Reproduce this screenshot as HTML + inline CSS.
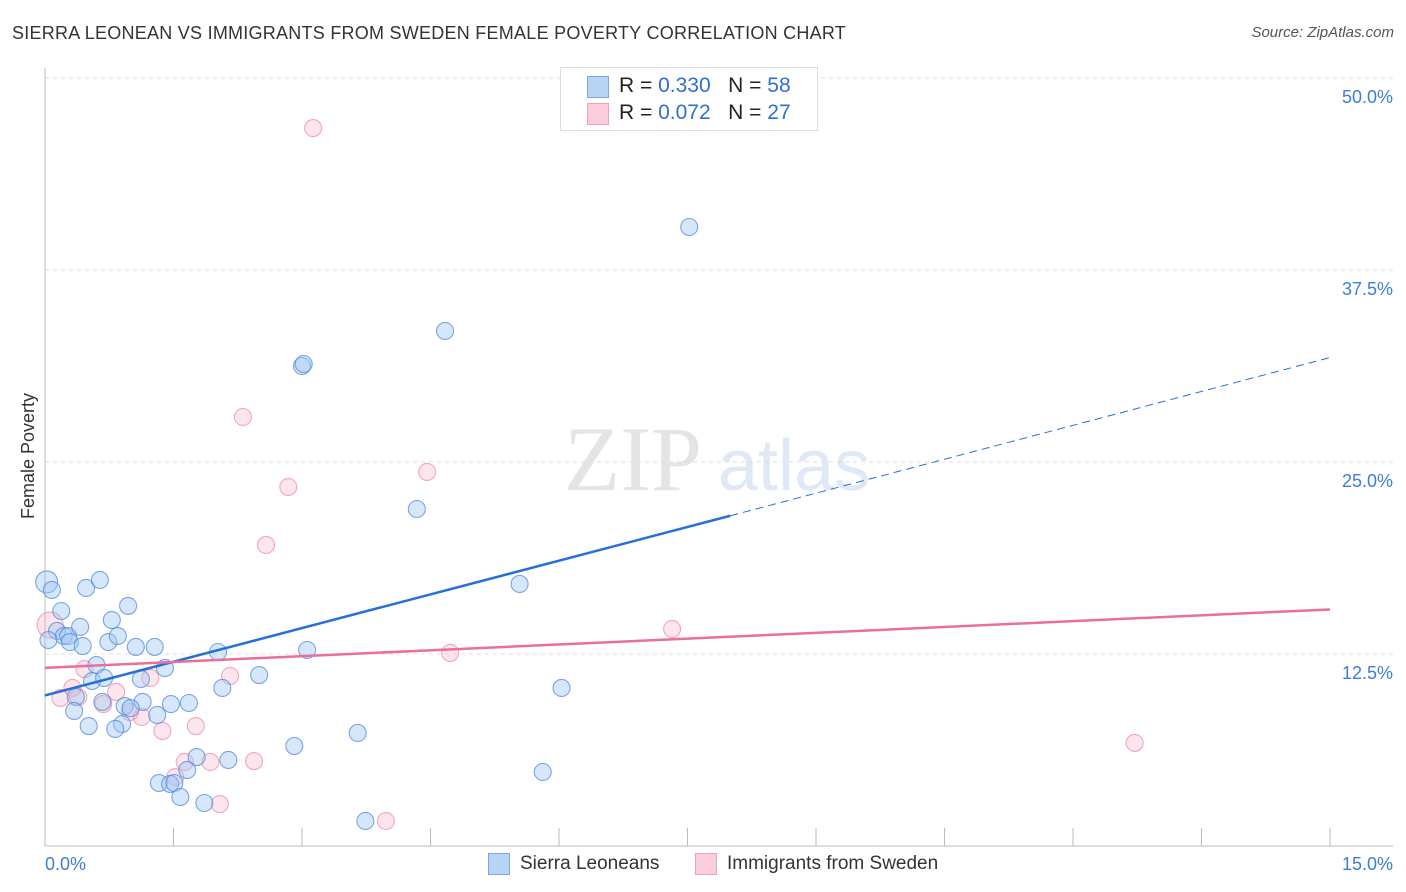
<!DOCTYPE html>
<html><head><meta charset="utf-8">
<style>
body{margin:0;background:#fff;font-family:"Liberation Sans",sans-serif;}
#wrap{position:relative;width:1406px;height:892px;overflow:hidden;}
.t{position:absolute;white-space:nowrap;}
</style></head>
<body>
<div id="wrap">
<div class="t" style="left:12px;top:23px;font-size:18px;color:#333;letter-spacing:0.25px;">SIERRA LEONEAN VS IMMIGRANTS FROM SWEDEN FEMALE POVERTY CORRELATION CHART</div>
<div class="t" style="right:12px;top:24px;font-size:15px;color:#555;font-style:italic;">Source: ZipAtlas.com</div>
<svg id="plot" width="1406" height="892" style="position:absolute;left:0;top:0"></svg>
</div>
<script>
const xTicks=[0,1.5,3,4.5,6,7.5,9,10.5,12,13.5,15];
const yTicks=[12.5,25,37.5,50];
const yTickLabels=["12.5%","25.0%","37.5%","50.0%"];
const blueX=[0.02,0.08,0.19,0.14,0.22,0.27,0.29,0.41,0.44,0.48,0.64,0.60,0.55,0.69,0.36,0.34,0.51,0.78,0.74,0.85,0.97,1.06,1.28,1.12,1.40,1.14,0.93,1.00,0.67,0.90,0.82,1.31,1.47,1.68,2.02,2.07,2.50,1.77,2.14,1.66,1.33,1.46,1.51,1.58,1.86,3.06,2.91,3.65,3.74,4.34,4.67,3.00,3.02,5.54,6.03,5.81,7.52,0.04];
const blueY=[17.19,16.67,15.30,14.00,13.67,13.67,13.28,14.26,13.02,16.80,17.32,11.78,10.74,10.94,9.70,8.79,7.81,14.71,13.28,13.67,15.63,12.96,12.96,10.87,11.59,9.38,9.11,8.98,9.38,7.94,7.62,8.53,9.24,9.31,12.63,10.29,11.13,5.79,5.60,4.95,4.10,4.04,4.10,3.19,2.80,12.76,6.51,7.36,1.63,21.94,33.53,31.25,31.38,17.06,10.29,4.82,40.30,13.41];
const pinkX=[0.06,0.46,0.32,0.18,0.39,0.83,0.68,0.99,1.13,1.23,1.37,1.76,1.63,1.93,1.52,2.04,2.44,2.16,2.58,2.84,2.31,3.13,4.46,4.73,7.32,3.98,12.72];
const pinkY=[14.39,11.52,10.29,9.64,9.70,10.03,9.24,8.72,8.40,10.94,7.49,7.81,5.47,5.47,4.49,2.73,5.53,11.07,19.60,23.37,27.93,46.74,24.35,12.57,14.13,1.63,6.71];
const blueTrend=[[0,9.8],[8.0,21.5],[15,31.8]];
const pinkTrend=[[0,11.6],[15,15.4]];
const X0=45,X1=1330,Y0=846,YPX=192/12.5;
const sx=v=>X0+(X1-X0)*v/15;
const sy=v=>Y0-v*YPX;
const svg=document.getElementById('plot');
const NS='http://www.w3.org/2000/svg';
function mk(tag,attrs,parent){const e=document.createElementNS(NS,tag);for(const k in attrs)e.setAttribute(k,attrs[k]);(parent||svg).appendChild(e);return e;}
let w1=mk('text',{x:633,y:490,'font-size':92,'font-family':'Liberation Serif,serif',fill:'#e4e4e4','text-anchor':'middle'});w1.textContent='ZIP';


let w2=mk('text',{x:718,y:490,'font-size':72,'font-family':'Liberation Sans,sans-serif',fill:'#dfe8f5'});w2.textContent='atlas';


yTicks.forEach((v,i)=>{
 const g=mk('line',{x1:X0,x2:1393,y1:sy(v),y2:sy(v),stroke:'#ddd','stroke-dasharray':'4,4'});
 
 
 const t=mk('text',{x:1393,y:sy(v)+25,'font-size':18,fill:'#3b7dd8','text-anchor':'end'});t.textContent=yTickLabels[i];
 
 
});
let ax=mk('line',{x1:X0,x2:1393,y1:Y0,y2:Y0,stroke:'#bbb'});


let ay=mk('line',{x1:X0,x2:X0,y1:68,y2:Y0,stroke:'#bbb'});


xTicks.forEach(v=>{const t=mk('line',{x1:sx(v),x2:sx(v),y1:828,y2:Y0,stroke:'#bbb'});
 
 });
let xl0=mk('text',{x:45,y:870,'font-size':18,fill:'#3b7dd8'});xl0.textContent='0.0%';


let xl1=mk('text',{x:1393,y:870,'font-size':18,fill:'#3b7dd8','text-anchor':'end'});xl1.textContent='15.0%';


let yt=mk('text',{x:34,y:456,'font-size':18,fill:'#333','text-anchor':'middle',transform:'rotate(-90 34 456)'});yt.textContent='Female Poverty';


pinkX.forEach((x,i)=>{const c=mk('circle',{cx:sx(x),cy:sy(pinkY[i]),r:i===0?13:8.5,fill:'rgba(246,170,195,0.3)',stroke:'rgba(236,140,172,0.75)','stroke-width':1.1});
 
 });
blueX.forEach((x,i)=>{const c=mk('circle',{cx:sx(x),cy:sy(blueY[i]),r:i===0?11:8.5,fill:'rgba(160,198,242,0.42)',stroke:'rgba(80,138,220,0.75)','stroke-width':1.1});
 
 });
let bt=mk('line',{x1:sx(blueTrend[0][0]),y1:sy(blueTrend[0][1]),x2:sx(blueTrend[1][0]),y2:sy(blueTrend[1][1]),stroke:'#2470d8','stroke-width':2.5});


let bd=mk('line',{x1:sx(blueTrend[1][0]),y1:sy(blueTrend[1][1]),x2:sx(blueTrend[2][0]),y2:sy(blueTrend[2][1]),stroke:'#2470d8','stroke-width':1,'stroke-dasharray':'8,5'});


let pt=mk('line',{x1:sx(pinkTrend[0][0]),y1:sy(pinkTrend[0][1]),x2:sx(pinkTrend[1][0]),y2:sy(pinkTrend[1][1]),stroke:'#e8709a','stroke-width':2.5});


</script>
<div style="position:absolute;left:560px;top:67px;width:256px;height:62px;border:1px solid #ddd;background:#fff;font-size:21px;">
 <div style="position:absolute;left:26px;top:8px;width:20px;height:20px;background:#b9d3f5;border:1px solid #7aa6e4;"></div>
 <div class="t" style="left:58px;top:6px;color:#222">R = <span style="color:#2f6fd0">0.330</span>&nbsp;&nbsp;&nbsp;N = <span style="color:#2f6fd0">58</span></div>
 <div style="position:absolute;left:26px;top:35px;width:20px;height:20px;background:#fbccd9;border:1px solid #f0a0ba;"></div>
 <div class="t" style="left:58px;top:33px;color:#222">R = <span style="color:#2f6fd0">0.072</span>&nbsp;&nbsp;&nbsp;N = <span style="color:#2f6fd0">27</span></div>
</div>
<div style="position:absolute;left:488px;top:853px;width:20px;height:20px;background:#b9d3f5;border:1px solid #7aa6e4;"></div>
<div class="t" style="left:520px;top:853px;font-size:19px;color:#333">Sierra Leoneans</div>
<div style="position:absolute;left:695px;top:853px;width:20px;height:20px;background:#fbccd9;border:1px solid #f0a0ba;"></div>
<div class="t" style="left:727px;top:853px;font-size:19px;color:#333">Immigrants from Sweden</div>
</body></html>
